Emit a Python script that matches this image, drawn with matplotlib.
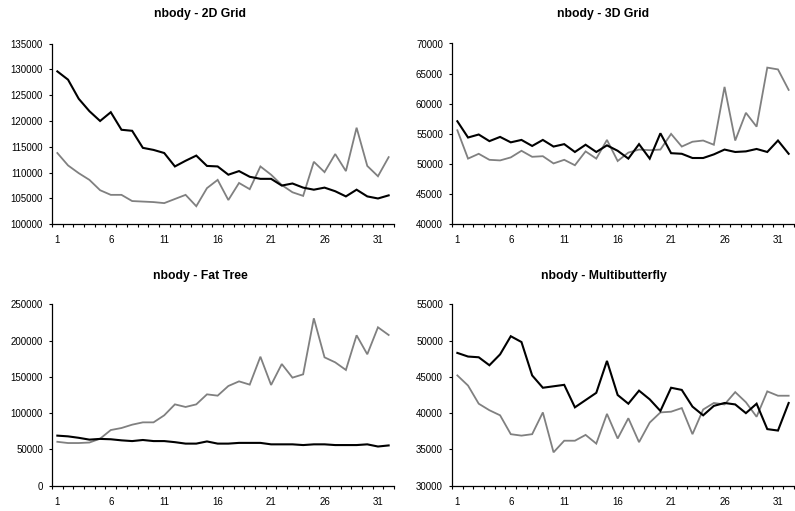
"""nbody runtime per step, four interconnect topologies (2x2 Excel-style line panels)."""
import matplotlib
matplotlib.use("Agg")
import matplotlib.pyplot as plt
from matplotlib.ticker import FixedLocator, NullFormatter

plt.rcParams["font.family"] = ["Liberation Sans", "DejaVu Sans"]

# ---- data --------------------------------------------------------------------
steps = list(range(1, 33))
step_labels = [1, 6, 11, 16, 21, 26, 31]

grid2d_black = [129600, 128000, 124300, 121900, 120000, 121700, 118300, 118100,
                114800, 114400, 113800, 111200, 112300, 113300, 111300, 111200,
                109600, 110300, 109200, 108800, 108800, 107500, 107900, 107100,
                106700, 107100, 106400, 105400, 106700, 105400, 105000, 105600]
grid2d_gray = [113800, 111400, 109900, 108600, 106600, 105700, 105700, 104500,
               104400, 104300, 104100, 104900, 105700, 103500, 107000, 108600,
               104700, 108000, 106800, 111200, 109600, 107600, 106200, 105500,
               112100, 110100, 113600, 110300, 118700, 111300, 109300, 113000]

grid3d_black = [57100, 54400, 54900, 53800, 54500, 53600, 54000, 53000,
                54000, 52900, 53300, 52000, 53200, 52000, 53100, 52200,
                50900, 53300, 50900, 55100, 51800, 51700, 51000, 51000,
                51600, 52400, 52000, 52100, 52500, 52000, 53900, 51700]
grid3d_gray = [55600, 50900, 51700, 50700, 50600, 51100, 52200, 51200,
               51300, 50100, 50700, 49800, 52100, 50900, 54000, 50500,
               51900, 52400, 52300, 52400, 55000, 52900, 53700, 53900,
               53200, 62800, 53900, 58500, 56200, 66000, 65700, 62300]

fattree_black = [69000, 68000, 66000, 63500, 64500, 64000, 62500, 61500,
                 63000, 61500, 61500, 60000, 58000, 58000, 61000, 58000,
                 58000, 59000, 59000, 59000, 57000, 57000, 57000, 56000,
                 57000, 57000, 56000, 56000, 56000, 57000, 54000, 55500]
fattree_gray = [60500, 58800, 58800, 59500, 64800, 76700, 79500, 84100,
                87300, 87300, 97000, 112100, 108500, 112100, 125900, 124100,
                137400, 143800, 139300, 177800, 138800, 167700, 148900, 153500,
                230700, 176900, 170000, 159500, 207300, 181100, 218300, 207700]

mbfly_black = [48300, 47800, 47700, 46600, 48100, 50600, 49800, 45200,
               43500, 43700, 43900, 40800, 41800, 42800, 47200, 42500,
               41300, 43100, 41900, 40300, 43500, 43200, 40900, 39700,
               41000, 41400, 41200, 40000, 41300, 37800, 37600, 41400]
mbfly_gray = [45200, 43800, 41300, 40400, 39700, 37100, 36900, 37100,
              40100, 34600, 36200, 36200, 37000, 35800, 39900, 36500,
              39300, 36000, 38700, 40100, 40200, 40700, 37100, 40500,
              41400, 41200, 42900, 41500, 39500, 43000, 42400, 42400]

# (title, black series, gray series, ymin, ymax, ystep)
PANELS = [
    ("nbody - 2D Grid", grid2d_black, grid2d_gray, 100000, 135000, 5000),
    ("nbody - 3D Grid", grid3d_black, grid3d_gray, 40000, 70000, 5000),
    ("nbody - Fat Tree", fattree_black, fattree_gray, 0, 250000, 50000),
    ("nbody - Multibutterfly", mbfly_black, mbfly_gray, 30000, 55000, 5000),
]

# ---- layout (figure pixels, 795x511) -----------------------------------------
W, H = 795, 511
AX_RECTS = [(52, 43.5, 342, 180.8), (452, 43.5, 342, 180.8),
            (52, 304.3, 342, 181.4), (452, 304.3, 342, 181.4)]
TITLE_POS = [(200, 13.5), (603, 13.5), (200, 275.5), (604, 275.5)]


def draw_panel(fig, rect, title_xy, title, black, gray, ymin, ymax, ystep):
    x0, y0, w, h = rect
    ax = fig.add_axes([x0 / W, 1 - (y0 + h) / H, w / W, h / H])
    ax.plot(steps, gray, color="#808080", lw=1.3, solid_joinstyle="miter")
    ax.plot(steps, black, color="black", lw=1.5, solid_joinstyle="miter")

    # Excel "between tick marks": points at integers, ticks on boundaries
    ax.set_xlim(0.5, 32.5)
    ax.xaxis.set_major_locator(FixedLocator(step_labels))
    ax.xaxis.set_minor_locator(FixedLocator([s + 0.5 for s in range(0, 33)]))
    ax.xaxis.set_minor_formatter(NullFormatter())
    ax.tick_params(axis="x", which="major", length=0, pad=8, labelsize=7)
    ax.tick_params(axis="x", which="minor", length=2.5, width=0.8)

    ax.set_ylim(ymin, ymax)
    ax.set_yticks(range(ymin, ymax + 1, ystep))
    ax.set_yticklabels([str(v) for v in range(ymin, ymax + 1, ystep)])
    ax.tick_params(axis="y", length=2.5, width=0.8, pad=4, labelsize=7)

    for side in ("top", "right"):
        ax.spines[side].set_visible(False)
    for side in ("left", "bottom"):
        ax.spines[side].set_linewidth(0.9)
        ax.spines[side].set_clip_on(False)

    fig.text(title_xy[0] / W, 1 - title_xy[1] / H, title, ha="center",
             va="center", fontsize=8.8, fontweight="bold")
    return ax


def main():
    fig = plt.figure(figsize=(W / 100, H / 100), dpi=100)
    for rect, txy, (title, black, gray, lo, hi, st) in zip(AX_RECTS, TITLE_POS, PANELS):
        draw_panel(fig, rect, txy, title, black, gray, lo, hi, st)
    fig.savefig("out.png", dpi=100)
    plt.close(fig)


if __name__ == "__main__":
    main()
